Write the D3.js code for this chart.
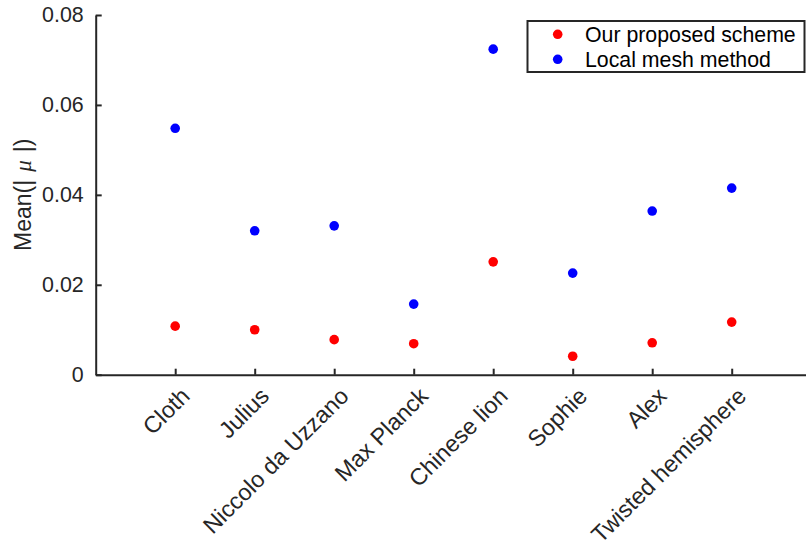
<!DOCTYPE html>
<html><head><meta charset="utf-8">
<script src="https://cdn.jsdelivr.net/npm/d3@7"></script>
<style>
html,body{margin:0;padding:0;background:#fff;}
text{font-family:"Liberation Sans",Arial,Helvetica,sans-serif;}
</style></head>
<body><svg id="chart" width="806" height="550"></svg>
<script>
const categories = ["Cloth","Julius","Niccolo da Uzzano","Max Planck","Chinese lion","Sophie","Alex","Twisted hemisphere"];
const proposedValues = [0.0108,0.0100,0.0078,0.0069,0.0251,0.0041,0.0071,0.0117];
const localMeshValues = [0.0548,0.0320,0.0331,0.0157,0.0724,0.0226,0.0364,0.0415];
const yTicks = [0,0.02,0.04,0.06,0.08];
const yTickLabels = ["0","0.02","0.04","0.06","0.08"];
const seriesNames = ["Our proposed scheme","Local mesh method"];
const seriesColors = ["#ff0000","#0000ff"];

const svg = d3.select("#chart");
const axisColor = "#262626";
const x = d3.scaleLinear().domain([0,9]).range([95.7,811.2]);
const y = d3.scaleLinear().domain([0,0.08]).range([374.7,15]);

// x axis
const xAxis = d3.axisBottom(x).tickValues(d3.range(1,9)).tickSizeInner(-6).tickSizeOuter(0).tickFormat("");
const gx = svg.append("g").attr("transform",`translate(0,${y(0)})`).call(xAxis);
gx.select(".domain").attr("stroke",axisColor).attr("stroke-width",2);
gx.selectAll(".tick line").attr("stroke",axisColor).attr("stroke-width",2);

// x labels rotated
categories.forEach((c,i)=>{
  const px = x(i+1), py = y(0)+11;
  svg.append("text").attr("transform",`translate(${px+4},${py}) rotate(-45)`)
    .attr("text-anchor","end").attr("dy","0.72em").attr("font-size",23.3).attr("fill",axisColor).text(c);
});

// y axis
const yAxis = d3.axisLeft(y).tickValues(yTicks).tickSizeInner(-6).tickSizeOuter(0).tickPadding(12)
  .tickFormat((d,i)=>yTickLabels[i]);
const gy = svg.append("g").attr("transform",`translate(${x(0)},0)`).call(yAxis);
gy.select(".domain").attr("stroke",axisColor).attr("stroke-width",2);
gy.selectAll(".tick line").attr("stroke",axisColor).attr("stroke-width",2);
gy.selectAll(".tick text").attr("font-size",21.4).attr("fill",axisColor).attr("font-family","Liberation Sans, Arial, sans-serif");

// y label
const yl = svg.append("text").attr("transform",`translate(31,${(y(0)+y(0.08))/2}) rotate(-90)`)
  .attr("text-anchor","middle").attr("font-size",23).attr("fill",axisColor);
yl.append("tspan").text("Mean(|");
yl.append("tspan").attr("dx",8).attr("font-style","italic").attr("font-family","Liberation Serif, serif").text("μ");
yl.append("tspan").attr("dx",8).text("|)");

// points
const allSeries = [proposedValues, localMeshValues];
allSeries.forEach((vals,s)=>{
  svg.append("g").selectAll("circle").data(vals).join("circle")
    .attr("cx",(d,i)=>x(i+1)).attr("cy",d=>y(d)).attr("r",4.8).attr("fill",seriesColors[s]);
});

// legend
const lg = svg.append("g");
lg.append("rect").attr("x",527.5).attr("y",21).attr("width",277).attr("height",51)
  .attr("fill","#fff").attr("stroke",axisColor).attr("stroke-width",2);
seriesNames.forEach((n,i)=>{
  const cy = 34.3 + i*25;
  lg.append("circle").attr("cx",557.7).attr("cy",cy).attr("r",4.8).attr("fill",seriesColors[i]);
  lg.append("text").attr("x",585).attr("y",cy).attr("dy","0.36em").attr("font-size",21.3).attr("fill","#000").text(n);
});
</script></body></html>
